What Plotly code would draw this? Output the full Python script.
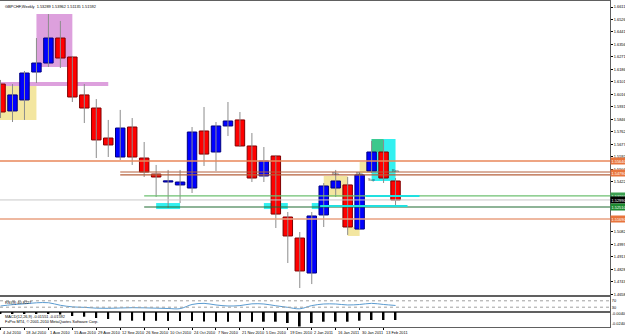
import plotly.graph_objects as go

# ---------------- data ----------------
bar_dates = ["4 Jul 2010", "11 Jul 2010", "18 Jul 2010", "25 Jul 2010", "1 Aug 2010", "8 Aug 2010",
             "15 Aug 2010", "22 Aug 2010", "29 Aug 2010", "5 Sep 2010", "12 Sep 2010", "19 Sep 2010",
             "26 Sep 2010", "3 Oct 2010", "10 Oct 2010", "17 Oct 2010", "24 Oct 2010", "31 Oct 2010",
             "7 Nov 2010", "14 Nov 2010", "21 Nov 2010", "28 Nov 2010", "5 Dec 2010", "12 Dec 2010",
             "19 Dec 2010", "26 Dec 2010", "2 Jan 2011", "9 Jan 2011", "16 Jan 2011", "23 Jan 2011",
             "30 Jan 2011", "6 Feb 2011", "13 Feb 2011", "20 Feb 2011"]
opens = [1.6087, 1.5904, 1.5979, 1.6169, 1.6230, 1.6400, 1.6271, 1.6013, 1.5924, 1.5720, 1.5591, 1.5795,
         1.5584, 1.5475, 1.5421, 1.5401, 1.5380, 1.5768, 1.5625, 1.5802, 1.5843, 1.5666, 1.5462, 1.5598,
         1.5183, 1.5040, 1.4802, 1.5197, 1.5380, 1.5401, 1.5101, 1.5496, 1.5625, 1.5428]
highs = [1.6115, 1.6087, 1.6176, 1.6400, 1.6563, 1.6516, 1.6278, 1.6087, 1.5985, 1.5843, 1.5911, 1.5856,
         1.5693, 1.5537, 1.5503, 1.5503, 1.5795, 1.5931, 1.5829, 1.5965, 1.5897, 1.5754, 1.5659, 1.5605,
         1.5217, 1.5081, 1.5217, 1.5414, 1.5503, 1.5455, 1.5489, 1.5700, 1.5707, 1.5448]
lows = [1.5856, 1.5829, 1.5843, 1.6094, 1.6203, 1.6196, 1.5965, 1.5822, 1.5584, 1.5591, 1.5571, 1.5537,
        1.5455, 1.5319, 1.5244, 1.5278, 1.5346, 1.5530, 1.5496, 1.5734, 1.5659, 1.5421, 1.5421, 1.5108,
        1.4870, 1.4700, 1.4727, 1.5115, 1.5319, 1.5061, 1.5095, 1.5482, 1.5414, 1.5258]
closes = [1.5897, 1.6013, 1.6162, 1.6230, 1.6400, 1.6264, 1.5999, 1.5924, 1.5707, 1.5673, 1.5788, 1.5591,
          1.5489, 1.5455, 1.5428, 1.5421, 1.5761, 1.5611, 1.5802, 1.5836, 1.5666, 1.5448, 1.5564, 1.5203,
          1.5054, 1.4816, 1.5190, 1.5394, 1.5428, 1.5115, 1.5469, 1.5625, 1.5448, 1.5299]
rsi9 = [37.5, 46, 51, 57.5, 58, 42, 32, 29, 24, 23, 25, 27, 26, 24, 22, 21, 47, 54, 44, 37.5, 40, 51,
        50, 39, 29, 20, 40, 50, 50, 44, 47, 54, 47, 40.8]
macd_hist = [-0.0030, -0.0028, -0.0026, -0.0030, -0.0036, -0.0050, -0.0080, -0.0094, -0.0120, -0.0140,
             -0.0170, -0.0174, -0.0174, -0.0176, -0.0178, -0.0180, -0.0180, -0.0190, -0.0194, -0.0194,
             -0.0194, -0.0194, -0.0194, -0.0194, -0.0220, -0.0290, -0.0220, -0.0194, -0.0194, -0.0194,
             -0.0174, -0.0160, -0.0160, -0.0160]
price_ticks = [1.66110, 1.65261, 1.64412, 1.63563, 1.62714, 1.61865, 1.61016, 1.60167, 1.59318, 1.58469,
               1.57620, 1.56771, 1.55922, 1.55073, 1.54224, 1.53375, 1.52526, 1.51677, 1.50828, 1.49979,
               1.49130, 1.48281, 1.47432, 1.46583]
date_labels = ["4 Jul 2010", "18 Jul 2010", "1 Aug 2010", "15 Aug 2010", "29 Aug 2010", "12 Sep 2010",
               "26 Sep 2010", "10 Oct 2010", "24 Oct 2010", "7 Nov 2010", "21 Nov 2010", "5 Dec 2010",
               "19 Dec 2010", "2 Jan 2011", "16 Jan 2011", "30 Jan 2011", "13 Feb 2011"]

# drawn objects: (bar from, bar to, price a, price b, colour)
zones = [(-1, 3, 1.6101, 1.5843, "#F3E6A0"),
         (3, 6, 1.6563, 1.6203, "#DDA0DD"),
         (-1, 9, 1.6101, 1.6074, "#DDA0DD"),
         (13, 15, 1.5278, 1.5237, "#33F0F0"),
         (22, 24, 1.5278, 1.5237, "#33F0F0"),
         (26, 26.7, 1.5278, 1.5237, "#33F0F0"),
         (27, 29, 1.5462, 1.5319, "#F3E6A0"),
         (29, 30, 1.5115, 1.5054, "#F3E6A0"),
         (30, 31, 1.5557, 1.5482, "#F3E6A0"),
         (31, 33, 1.5713, 1.5428, "#33F0F0"),
         (31, 32, 1.5713, 1.5625, "#3CC88C")]
# horizontal levels: (price, colour, start bar, width)
levels = [(1.5564, "#E8875A", -1, 1.5),
          (1.5489, "#B5603C", 10, 1.2),
          (1.5469, "#B5603C", 10, 1.2),
          (1.5326, "#6CC070", 12, 1.2),
          (1.5299, "#C8C8C8", -1, 1),
          (1.5251, "#1E6B30", 12, 1.2),
          (1.5169, "#E8A080", -1, 1.5)]
level_boxes = [(1.5564, "#E8743C"), (1.5479, "#E8743C"),
               (1.5326, "#3CA050"), (1.5299, "#000000"), (1.5251, "#1E8B30"), (1.5169, "#E8743C")]
cyan_lines = [(26.7, 34, 1.5258), (30.5, 35, 1.5326)]
notes = [(28, 1.5482, "Res"), (30, 1.5482, "Res"), (31, 1.5441, "Sup"), (33, 1.5496, "Res")]

# ---------------- figure ----------------
FONT = "Liberation Sans"
FS = 3.9
idx = list(range(len(opens)))
fig = go.Figure()

wx, wy = [], []
for i in idx:
    wx += [i, i, None]
    wy += [lows[i], highs[i], None]
fig.add_trace(go.Scatter(x=wx, y=wy, mode="lines", line=dict(color="#8C8C8C", width=1),
                         xaxis="x", yaxis="y", hoverinfo="skip", showlegend=False))

up = [i for i in idx if closes[i] >= opens[i]]
dn = [i for i in idx if closes[i] < opens[i]]
fig.add_trace(go.Bar(x=up, base=[opens[i] for i in up],
                     y=[max(closes[i] - opens[i], 0.0008) for i in up], width=0.79,
                     marker=dict(color="#0000FF", line=dict(color="#000080", width=1)),
                     xaxis="x", yaxis="y", showlegend=False))
fig.add_trace(go.Bar(x=dn, base=[closes[i] for i in dn],
                     y=[max(opens[i] - closes[i], 0.0008) for i in dn], width=0.79,
                     marker=dict(color="#FF0000", line=dict(color="#800000", width=1)),
                     xaxis="x", yaxis="y", showlegend=False))

fig.add_trace(go.Scatter(x=idx, y=rsi9, mode="lines", line=dict(color="#5A9BD0", width=1, shape="spline"),
                         xaxis="x2", yaxis="y2", showlegend=False))
fig.add_trace(go.Bar(x=idx, y=macd_hist, width=0.15, marker=dict(color="#000000", line=dict(width=0)),
                     xaxis="x3", yaxis="y3", showlegend=False))

shapes = []
for x0, x1, a, b, col in zones:
    shapes.append(dict(type="rect", xref="x", yref="y", x0=x0, x1=x1, y0=a, y1=b,
                       fillcolor=col, line=dict(width=0), layer="below"))
for p, col, start, w in levels:
    shapes.append(dict(type="line", xref="x", yref="y", x0=start, x1=60, y0=p, y1=p,
                       line=dict(color=col, width=w), layer="above"))
for x0, x1, p in cyan_lines:
    shapes.append(dict(type="line", xref="x", yref="y", x0=x0, x1=x1, y0=p, y1=p,
                       line=dict(color="#20E0E0", width=2), layer="above"))
for lv in (70, 30):
    shapes.append(dict(type="line", xref="paper", yref="y2", x0=0, x1=1, y0=lv, y1=lv,
                       line=dict(color="#A0A0A0", width=1, dash="dot")))
fig.update_layout(shapes=shapes)

ann = []
small = dict(family=FONT, size=FS, color="#000000")
ann.append(dict(xref="paper", yref="paper", x=0.005, y=0.996, xanchor="left", yanchor="top",
                text="GBPCHF,Weekly  1.53289 1.53962 1.51135 1.51592", showarrow=False, font=small))
ann.append(dict(xref="paper", yref="paper", x=0.005, y=0.090, xanchor="left", yanchor="top",
                text="RSI(9) 40.8227", showarrow=False, font=small))
ann.append(dict(xref="paper", yref="paper", x=0.005, y=0.045, xanchor="left", yanchor="top",
                text="MACD(12,26,9) -0.01551 -0.01592", showarrow=False, font=small))
ann.append(dict(xref="paper", yref="paper", x=0.005, y=0.016, xanchor="left", yanchor="middle",
                text="FxPro MT4, \u00a9 2001-2010 MetaQuotes Software Corp.", showarrow=False, font=small))
for k, lab in enumerate(date_labels):
    ann.append(dict(xref="x3", yref="paper", x=2 * k, y=0, xanchor="left", yanchor="top", yshift=-1,
                    text=lab, showarrow=False, font=small))
for x, p, t in notes:
    ann.append(dict(xref="x", yref="y", x=x, y=p, text=t, showarrow=False,
                    font=dict(family=FONT, size=FS, color="#404040")))
for p, col in level_boxes:
    ann.append(dict(xref="paper", yref="y", x=1.0, y=p, xanchor="left", text="%.5f" % p,
                    showarrow=False, bgcolor=col, borderpad=0.5,
                    font=dict(family=FONT, size=FS, color="#FFFFFF")))
fig.update_layout(annotations=ann)

xr = [-0.0443, 50.917]
ax_common = dict(showgrid=False, zeroline=False, showline=True, mirror=True, linecolor="#606060",
                 linewidth=1)
fig.update_layout(
    width=625, height=334, margin=dict(l=0, r=15, t=1, b=7),
    paper_bgcolor="#FFFFFF", plot_bgcolor="#FFFFFF", barmode="overlay", showlegend=False,
    xaxis=dict(domain=[0, 1], anchor="y", range=xr, showticklabels=False, ticks="", **ax_common),
    yaxis=dict(domain=[0.0951, 1], anchor="x", side="right", range=[1.46458, 1.66518],
               tickvals=price_ticks, ticktext=["%.5f" % v for v in price_ticks], ticks="outside",
               ticklen=2, tickcolor="#000000", automargin=False,
               tickfont=dict(family=FONT, size=FS, color="#000000"), **ax_common),
    xaxis2=dict(domain=[0, 1], anchor="y2", range=xr, matches="x", showticklabels=False, ticks="",
                **ax_common),
    yaxis2=dict(domain=[0.0460, 0.0951], anchor="x2", side="right", range=[0, 100],
                tickvals=[70, 30], ticktext=["70", "30"], ticks="", automargin=False,
                tickfont=dict(family=FONT, size=FS, color="#000000"), **ax_common),
    xaxis3=dict(domain=[0, 1], anchor="y3", range=xr, matches="x", showticklabels=False,
                ticks="outside", ticklen=2, tickvals=[2 * k for k in range(len(date_labels))],
                tickcolor="#000000", **ax_common),
    yaxis3=dict(domain=[0, 0.0460], anchor="x3", side="right", range=[-0.030, 0.0],
                tickvals=[-0.004, -0.024], ticktext=["-0.00400", "-0.02400"], ticks="",
                automargin=False, tickfont=dict(family=FONT, size=FS, color="#000000"), **ax_common),
)

fig.write_html("out.html")
